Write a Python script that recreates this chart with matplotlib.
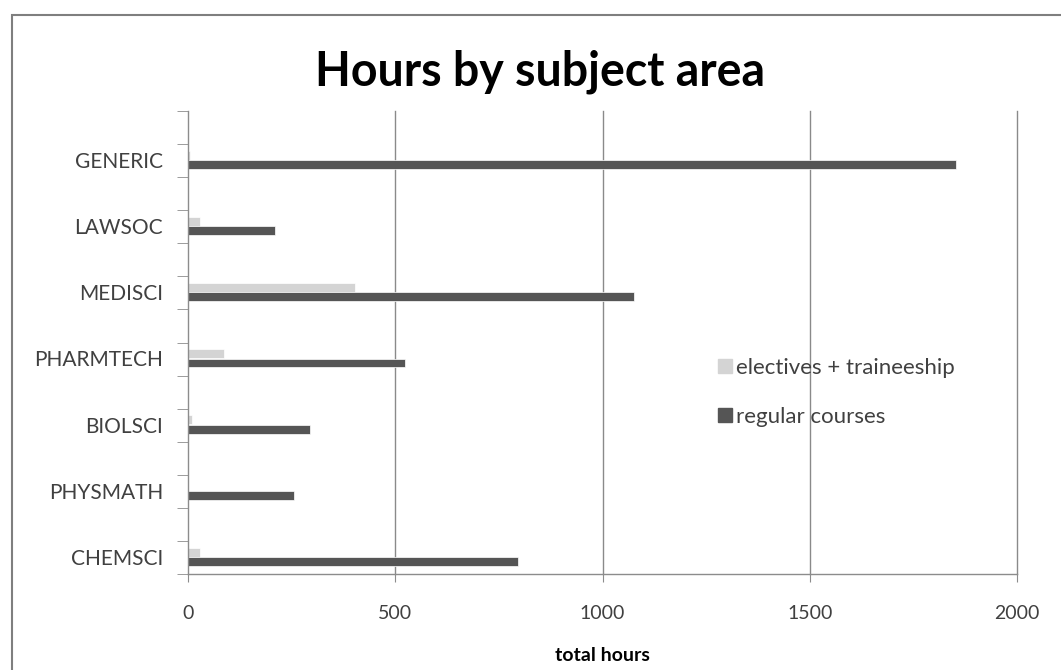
import numpy as np
import matplotlib.pyplot as plt
from matplotlib.patches import Rectangle
from matplotlib.lines import Line2D

# subject areas, top to bottom as shown
areas = ["GENERIC", "LAWSOC", "MEDISCI", "PHARMTECH", "BIOLSCI", "PHYSMATH", "CHEMSCI"]
electives = [5, 30, 403, 87, 10, 0, 29]
regular = [1852, 210, 1077, 524, 295, 256, 795]
x_ticks = [0, 500, 1000, 1500, 2000]

light = "#d4d4d4"
dark = "#555555"
axis_grey = "#8c8c8c"
text_grey = "#404040"

plt.rcParams['font.family'] = ['Lato', 'DejaVu Sans']

fig = plt.figure(figsize=(10.61, 6.70), dpi=100)
ax = fig.add_axes([188 / 1061, 1 - 574 / 670, (1017 - 188) / 1061, (574 - 111) / 670])

# chart area border
fig.patches.append(Rectangle((12 / 1061, -0.1), 1.2, 1 - 15 / 670 + 0.1,
                             transform=fig.transFigure, fill=False,
                             edgecolor="#7f7f7f", linewidth=1.5))

y = np.arange(len(areas))
h = 0.135
ax.barh(y + 0.67, electives, height=h, color=light, edgecolor="white", linewidth=0.5)
ax.barh(y + 0.81, regular, height=h, color=dark, edgecolor="white", linewidth=0.5)

ax.set_xlim(0, 2000)
ax.set_ylim(len(areas), 0)

ax.set_xticks(x_ticks)
ax.set_xticklabels([str(v) for v in x_ticks], fontsize=14, color=text_grey)
ax.tick_params(axis='x', length=6, color=axis_grey, direction='out', pad=16)
for v in x_ticks[1:]:
    ax.axvline(v, color="#8a8a8a", linewidth=1, zorder=0, clip_on=False)

ax.set_yticks(y + 0.74)
ax.set_yticklabels(areas, fontsize=15, color=text_grey)
ax.tick_params(axis='y', which='major', length=0, pad=18)
ax.set_yticks(np.arange(0, len(areas) + 0.01, 0.5), minor=True)
ax.tick_params(axis='y', which='minor', length=8, color=axis_grey, direction='out')

for s in ['top', 'right']:
    ax.spines[s].set_visible(False)
for s in ['left', 'bottom']:
    ax.spines[s].set_color(axis_grey)
    ax.spines[s].set_linewidth(1)

ax.set_xlabel("total hours", fontsize=14, fontweight='bold', color="black", labelpad=18)
fig.text(540 / 1061, 1 - 72 / 670, "Hours by subject area", fontsize=33.5,
         fontweight='bold', ha='center', va='center', color="black")

handles = [Line2D([], [], marker='s', linestyle='', markersize=10, color=light),
           Line2D([], [], marker='s', linestyle='', markersize=10, color=dark)]
ax.legend(handles, ["electives + traineeship", "regular courses"], frameon=False,
          fontsize=16, loc='upper left', bbox_to_anchor=(0.61, 0.51),
          handletextpad=0.0, labelspacing=1.3, labelcolor=text_grey,
          handlelength=1.0)

fig.savefig("out.png", dpi=100)
